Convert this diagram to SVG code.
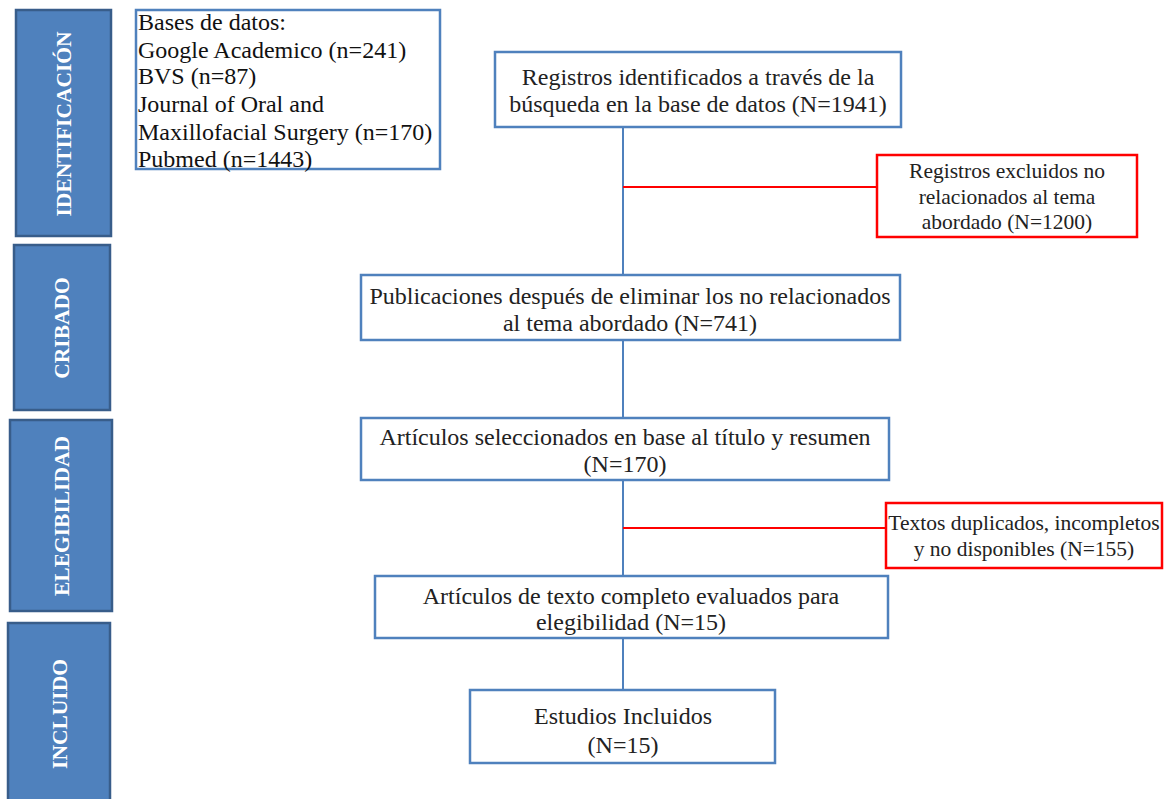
<svg xmlns="http://www.w3.org/2000/svg" width="1170" height="799" viewBox="0 0 1170 799">
<style>
.side{fill:#4F81BD;stroke:#385D8A;stroke-width:2.5}
.sl{font-family:"Liberation Serif","Times New Roman",serif;font-weight:bold;font-size:21.5px;fill:#FFFFFF;text-anchor:middle;dominant-baseline:central}
.box{fill:#FFFFFF;stroke:#4F81BD;stroke-width:2.5}
.rbox{fill:#FFFFFF;stroke:#FF0000;stroke-width:2.5}
.t{font-family:"Liberation Serif","Times New Roman",serif;font-size:24px;fill:#222222;text-anchor:middle}
.tl{font-family:"Liberation Serif","Times New Roman",serif;font-size:24px;fill:#111111}
.tr{font-family:"Liberation Serif","Times New Roman",serif;font-size:21.5px;fill:#222222;text-anchor:middle}
.cb{stroke:#4F81BD;stroke-width:2;fill:none}
.cr{stroke:#FF0000;stroke-width:2;fill:none}
</style>
<rect width="1170" height="799" fill="#FFFFFF"/>
<g id="connectors">
<line class="cb" x1="623" y1="127" x2="623" y2="690"/>
<line class="cr" x1="623" y1="187" x2="877" y2="187"/>
<line class="cr" x1="623" y1="528" x2="886" y2="528"/>
</g>
<g id="side-identificacion">
<rect class="side" x="16" y="10" width="95" height="226"/>
<text class="sl" transform="translate(64,124) rotate(-90)">IDENTIFICACIÓN</text>
</g>
<g id="side-cribado">
<rect class="side" x="14" y="245" width="96" height="165"/>
<text class="sl" transform="translate(62,328) rotate(-90)">CRIBADO</text>
</g>
<g id="side-elegibilidad">
<rect class="side" x="10" y="420" width="102" height="191"/>
<text class="sl" transform="translate(62,516) rotate(-90)">ELEGIBILIDAD</text>
</g>
<g id="side-incluido">
<rect class="side" x="8" y="623" width="102" height="180"/>
<text class="sl" transform="translate(60,714) rotate(-90)">INCLUIDO</text>
</g>
<g id="bases">
<rect class="box" x="136" y="10" width="304" height="159"/>
<text class="tl" x="138" y="30">Bases de datos:</text>
<text class="tl" x="138" y="58">Google Academico (n=241)</text>
<text class="tl" x="138" y="84">BVS (n=87)</text>
<text class="tl" x="138" y="112">Journal of Oral and</text>
<text class="tl" x="138" y="140">Maxillofacial Surgery (n=170)</text>
<text class="tl" x="138" y="167">Pubmed (n=1443)</text>
</g>
<g id="registros">
<rect class="box" x="495" y="52" width="406" height="75"/>
<text class="t" x="698" y="85">Registros identificados a través de la</text>
<text class="t" x="698" y="112">búsqueda en la base de datos (N=1941)</text>
</g>
<g id="excluidos">
<rect class="rbox" x="877" y="155" width="260" height="82"/>
<text class="tr" x="1007" y="178">Registros excluidos no</text>
<text class="tr" x="1007" y="204">relacionados al tema</text>
<text class="tr" x="1007" y="229">abordado (N=1200)</text>
</g>
<g id="publicaciones">
<rect class="box" x="361" y="275" width="539" height="65"/>
<text class="t" x="630" y="304">Publicaciones después de eliminar los no relacionados</text>
<text class="t" x="630" y="331">al tema abordado (N=741)</text>
</g>
<g id="seleccionados">
<rect class="box" x="361" y="418" width="528" height="62"/>
<text class="t" x="625" y="445">Artículos seleccionados en base al título y resumen</text>
<text class="t" x="625" y="472">(N=170)</text>
</g>
<g id="duplicados">
<rect class="rbox" x="886" y="503" width="276" height="65"/>
<text class="tr" x="1024" y="530">Textos duplicados, incompletos</text>
<text class="tr" x="1024" y="556">y no disponibles (N=155)</text>
</g>
<g id="completos">
<rect class="box" x="375" y="576" width="513" height="62"/>
<text class="t" x="631" y="604">Artículos de texto completo evaluados para</text>
<text class="t" x="631" y="630">elegibilidad (N=15)</text>
</g>
<g id="incluidos">
<rect class="box" x="470" y="690" width="305" height="73"/>
<text class="t" x="623" y="724">Estudios Incluidos</text>
<text class="t" x="623" y="753">(N=15)</text>
</g>
</svg>
